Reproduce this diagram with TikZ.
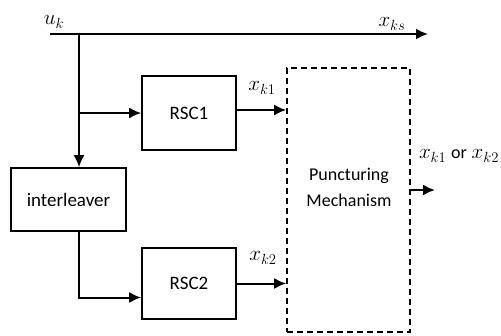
\documentclass[tikz,border=0pt]{standalone}
\usepackage{fix-cm}
\usepackage{fontspec}
\setmainfont{Carlito}
\usetikzlibrary{positioning, arrows.meta, calc}

\begin{document}
\begin{tikzpicture}[x=1pt, y=-1pt,
    blk/.style={draw, line width=1.6pt, minimum width=94pt, font=\fontsize{19}{21}\selectfont},
    conn/.style={line width=2pt, -{Latex[length=12pt, width=11pt]}},
    lbl/.style={font=\fontsize{21}{23}\selectfont, inner sep=0pt}]
  \useasboundingbox (0,0) rectangle (501,335);
  % blocks
  \node[blk, minimum height=74pt] (rsc1) at (189,113) {RSC1};
  \node[blk, minimum height=71pt] (rsc2) at (189,283.5) {RSC2};
  \node[blk, minimum width=115pt, minimum height=63pt] (inter) at (68.5,199.5) {interleaver};
  \node[draw, line width=1.6pt, dash pattern=on 6pt off 4pt,
        minimum width=123pt, minimum height=264pt] (punct) at (348.5,200) {};
  \node[font=\fontsize{18}{26}\selectfont, inner sep=0pt, align=center] (punctxt) at (349,187) {Puncturing\\Mechanism};
  % input line
  \coordinate (uk) at (50,34);
  \coordinate (split) at (79,34);
  \coordinate (xks) at (428,34);
  \coordinate (out) at (435,190);
  \draw[conn] (uk) -- (xks);
  \draw[conn] (split) -- (split |- inter.north);
  \draw[conn] (split |- rsc1.west) -- (rsc1.west);
  \draw[conn] (split |- inter.south) |- ([yshift=-14pt]rsc2.west);
  % encoder outputs
  \draw[conn] ([yshift=3pt]rsc1.east) -- ([yshift=3pt]rsc1.east -| punct.west);
  \draw[conn] (rsc2.east) -- (rsc2.east -| punct.west);
  \draw[conn] (punct.east |- out) -- (out);
  % labels
  \node[lbl] (uklbl) at (54,22) {$u_k$};
  \node[lbl] (xkslbl) at (392,24) {$x_{ks}$};
  \node[lbl] (xk1lbl) at (262,88) {$x_{k1}$};
  \node[lbl] (xk2lbl) at (263,258) {$x_{k2}$};
  \node[lbl] (outlbl) at (459,156) {$x_{k1}$ {\fontsize{18}{20}\selectfont or} $x_{k2}$};
\end{tikzpicture}
\end{document}
